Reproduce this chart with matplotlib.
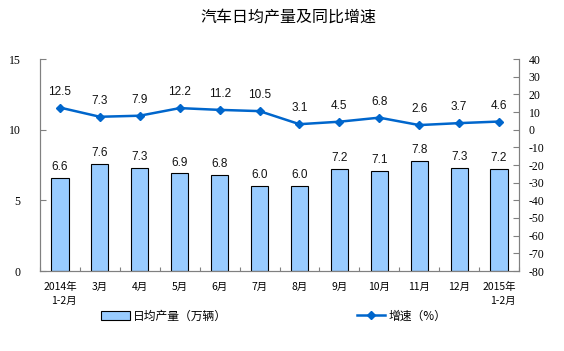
import matplotlib
matplotlib.use("Agg")
import matplotlib.pyplot as plt
import numpy as np
from matplotlib.patches import Patch
from matplotlib.lines import Line2D

plt.rcParams['font.family'] = ['Noto Sans CJK SC', 'DejaVu Sans']
plt.rcParams['axes.unicode_minus'] = False

# data
months = ["2014年\n1-2月", "3月", "4月", "5月", "6月", "7月", "8月",
          "9月", "10月", "11月", "12月", "2015年\n1-2月"]
output = [6.6, 7.6, 7.3, 6.9, 6.8, 6.0, 6.0, 7.2, 7.1, 7.8, 7.3, 7.2]
growth = [12.5, 7.3, 7.9, 12.2, 11.2, 10.5, 3.1, 4.5, 6.8, 2.6, 3.7, 4.6]

bar_col = "#99CCFF"
line_col = "#0066CC"
spine_col = "#808080"

fig = plt.figure(figsize=(5.64, 3.51), dpi=100)
ax = fig.add_axes([40 / 564, 80 / 351, 479 / 564, 212 / 351])
ax2 = ax.twinx()

x = np.arange(len(months))
ax.bar(x, output, width=0.43, color=bar_col, edgecolor="black", linewidth=0.8, zorder=2)
for xi, v in zip(x, output):
    ax.text(xi, v + 0.35, "%.1f" % v, ha="center", va="bottom",
            fontsize=8.5, family="Liberation Sans", color="#111111")

ax2.plot(x, growth, color=line_col, lw=1.8, marker="D", ms=4.5, zorder=3)
for xi, v in zip(x, growth):
    ax2.text(xi, v + 5.5, "%.1f" % v, ha="center", va="bottom",
             fontsize=8.5, family="Liberation Sans", color="#111111")

ax.set_xlim(-0.5, len(months) - 0.5)
ax.set_ylim(0, 15)
ax.set_yticks([0, 5, 10, 15])
ax2.set_ylim(-80, 40)
ax2.set_yticks(np.arange(-80, 41, 10))

# category tick marks sit between bars
ax.set_xticks(np.arange(-0.5, len(months), 1.0))
ax.set_xticklabels([])
ax.set_xticks(x, minor=True)
ax.set_xticklabels(months, minor=True, fontsize=7.5, linespacing=1.5)
for lbl in ax.get_xticklabels(minor=True):
    lbl.set_multialignment("right")
ax.tick_params(axis="x", which="major", direction="in", length=3, color=spine_col)
ax.tick_params(axis="x", which="minor", length=0, pad=8)

ax.tick_params(axis="y", direction="in", length=4, color=spine_col, pad=14)
ax2.tick_params(axis="y", direction="in", length=4, color=spine_col, pad=7)
for lbl in ax.get_yticklabels() + ax2.get_yticklabels():
    lbl.set_family("Liberation Serif")
    lbl.set_fontsize(8.5)

for a in (ax, ax2):
    a.spines["top"].set_visible(False)
    for s in ("left", "right", "bottom"):
        a.spines[s].set_color(spine_col)

fig.text(288 / 564, 1 - 18 / 351, "汽车日均产量及同比增速", ha="center", va="center", fontsize=11.5)

handles = [Patch(facecolor=bar_col, edgecolor="black", linewidth=0.8),
           Line2D([0], [0], color=line_col, lw=1.8, marker="D", ms=4)]
fig.legend(handles, ["日均产量（万辆）", "增速（%）"], ncol=2, frameon=False,
           loc="center", bbox_to_anchor=(274 / 564, 1 - 316 / 351),
           fontsize=8.5, columnspacing=11, handlelength=2.4, handletextpad=0.3)

fig.savefig("out.png", dpi=100)
